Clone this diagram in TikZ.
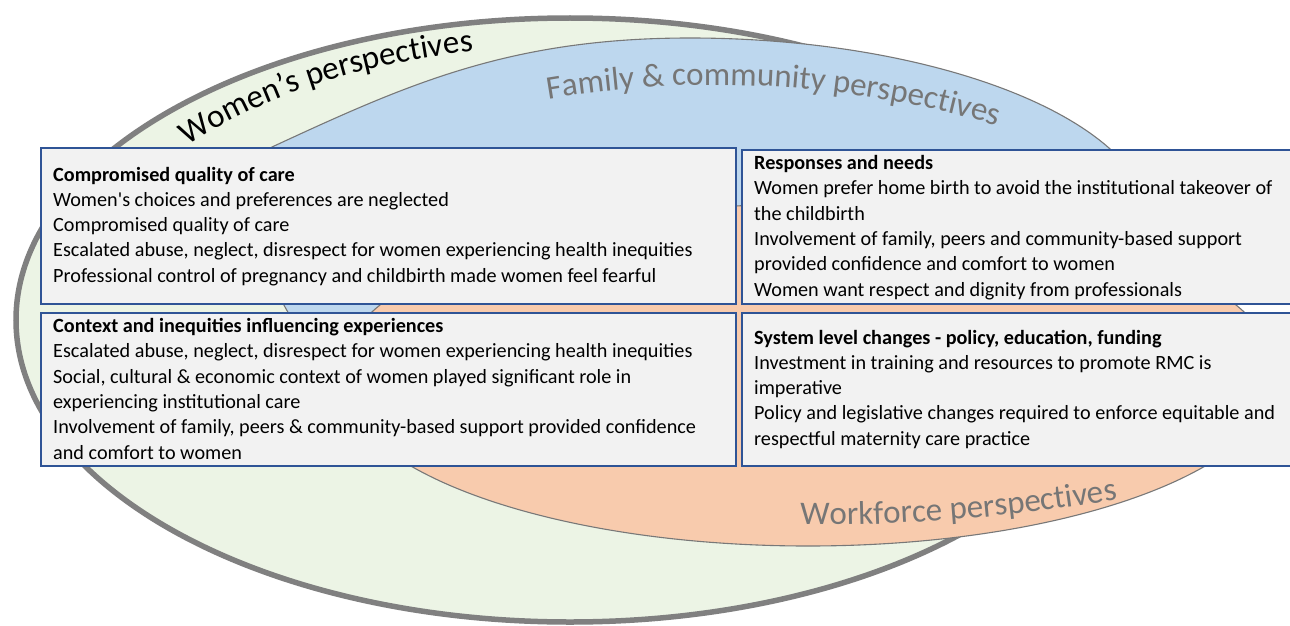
\documentclass[tikz,border=0pt]{standalone}
\usepackage{fontspec}
\setmainfont{Carlito}
\usetikzlibrary{decorations.text,calc}
\definecolor{outergreen}{RGB}{236,244,229}
\definecolor{outergray}{RGB}{128,128,128}
\definecolor{famblue}{RGB}{189,215,238}
\definecolor{workorange}{RGB}{248,203,173}
\definecolor{boxfill}{RGB}{242,242,242}
\definecolor{boxline}{RGB}{47,84,150}
\definecolor{labelgray}{RGB}{118,118,118}
\definecolor{edgegray}{RGB}{120,120,120}
\newcommand\bodyfont{\fontsize{20.2}{25.3}\selectfont}
\newcommand\lblfont{\fontsize{33}{40}\selectfont}
\begin{document}
\begin{tikzpicture}[x=1pt,y=-1pt,
  outerset/.style={fill=outergreen,draw=outergray,line width=5.5pt},
  famset/.style={fill=famblue,draw=edgegray,line width=1.1pt},
  workset/.style={fill=workorange,draw=edgegray,line width=1.1pt},
  boxset/.style={fill=boxfill,draw=boxline,line width=1.5pt,inner sep=0pt,anchor=north west},
  bodytext/.style={anchor=base west,inner sep=0pt,font=\bodyfont}]
\useasboundingbox (0,0) rectangle (1290,626);
\clip (0,0) rectangle (1290,626);
\fill[white] (0,0) rectangle (1290,626);
% women (outer)
\draw[outerset] (570,320) ellipse [x radius=554, y radius=302];
% family (blue)
\path[famset] (300,330) .. controls (275,300) and (217,172) .. (272,147)
  .. controls (408,84) and (510,38) .. (690,38)
  .. controls (870,38) and (1034,82) .. (1109,148)
  .. controls (1150,185) and (1170,300) .. (1000,380)
  .. controls (800,440) and (400,420) .. (300,330) -- cycle;
% workforce (orange)
\draw[workset] (808,375) ellipse [x radius=469, y radius=171];
% boxes
\node[boxset,minimum width=695pt,minimum height=156pt] (tlbox) at (40,147) {};
\node[boxset,minimum width=695pt,minimum height=153pt] (blbox) at (40,312) {};
\node[boxset,minimum width=560pt,minimum height=154pt] (trbox) at (741,149) {};
\node[boxset,minimum width=560pt,minimum height=153pt] (brbox) at (741,312) {};
% box texts
\node[bodytext] (tltext) at (53,181) {\begin{tabular}[t]{@{}l@{}}
\textbf{Compromised quality of care}\\
Women\textquotesingle s choices and preferences are neglected\\
Compromised quality of care\\
Escalated abuse, neglect, disrespect for women experiencing health inequities\\
Professional control of pregnancy and childbirth made women feel fearful
\end{tabular}};
\node[bodytext] (bltext) at (53,332.5) {\begin{tabular}[t]{@{}l@{}}
\textbf{Context and inequities influencing experiences}\\
Escalated abuse, neglect, disrespect for women experiencing health inequities\\
Social, cultural \& economic context of women played significant role in\\
experiencing institutional care\\
Involvement of family, peers \& community-based support provided confidence\\
and comfort to women
\end{tabular}};
\node[bodytext] (trtext) at (754,169.5) {\begin{tabular}[t]{@{}l@{}}
\textbf{Responses and needs}\\
Women prefer home birth to avoid the institutional takeover of\\
the childbirth\\
Involvement of family, peers and community-based support\\
provided confidence and comfort to women\\
Women want respect and dignity from professionals
\end{tabular}};
\node[bodytext] (brtext) at (754,344) {\begin{tabular}[t]{@{}l@{}}
\textbf{System level changes - policy, education, funding}\\
Investment in training and resources to promote RMC is\\
imperative\\
Policy and legislative changes required to enforce equitable and\\
respectful maternity care practice
\end{tabular}};
% curved labels
\path[decorate,decoration={text along path,text={|\lblfont|Women’s perspectives}}]
  ($(570,320)+(219.5:496 and 274)$) arc[start angle=219.5,end angle=300,x radius=496,y radius=274];
\path[decorate,decoration={text along path,text color=labelgray,text={|\lblfont|Family {\&} community perspectives}}]
  ($(715,1085)+(260.4:1000)$) arc[start angle=260.4,end angle=300,radius=1000];
\path[decorate,decoration={text along path,text color=labelgray,text={|\lblfont|Workforce perspectives}}]
  ($(816,-1275)+(90.5:1800)$) arc[start angle=90.5,end angle=70,radius=1800];
\end{tikzpicture}
\end{document}
